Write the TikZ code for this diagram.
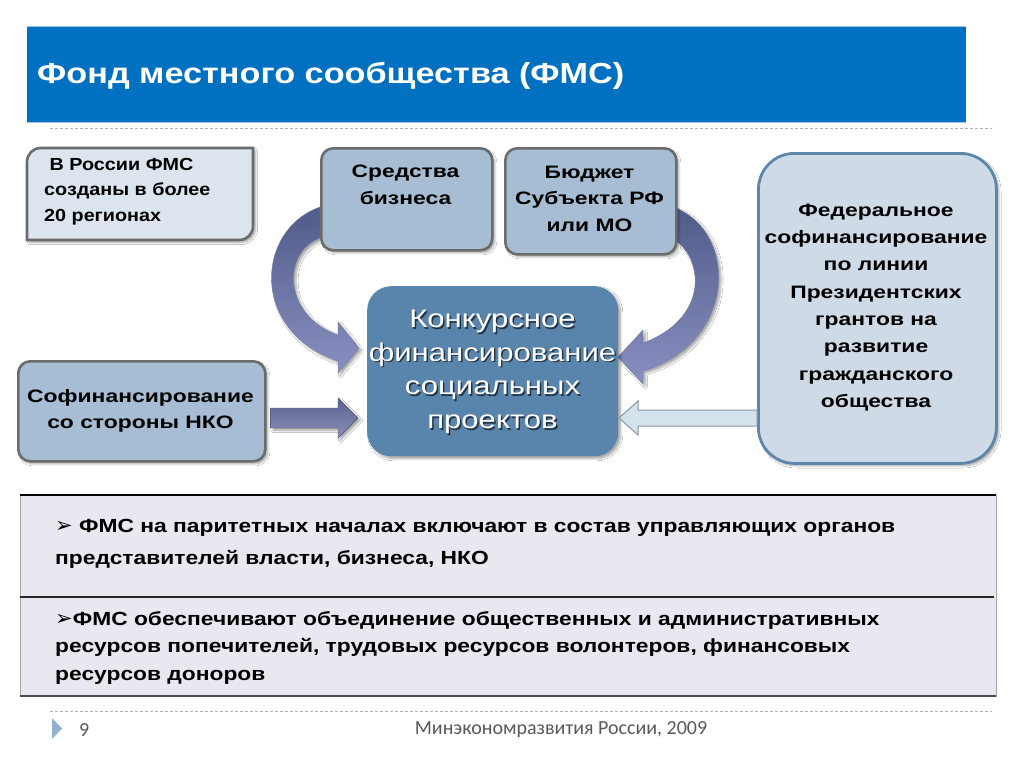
\documentclass[tikz,border=0pt]{standalone}
\usepackage{fontspec}
\setmainfont{Liberation Sans}
\newfontfamily\ttlfont[FakeStretch=1.18]{Liberation Sans}
\newfontfamily\boxfont[FakeStretch=1.27]{Liberation Sans}
\newfontfamily\rusfont[FakeStretch=1.13]{Liberation Sans}
\newfontfamily\ctrfont[FakeStretch=1.22]{Liberation Sans}
\newfontfamily\tabfont[FakeStretch=1.2]{Liberation Sans}
\newfontfamily\symfont{DejaVu Sans}
\newfontfamily\footfont{Carlito}
\usetikzlibrary{shadows.blur}
\definecolor{titleblue}{HTML}{0070C0}
\definecolor{titleline}{HTML}{9DC3E6}
\definecolor{grayborder}{HTML}{6B6B6B}
\definecolor{boxA}{HTML}{A7BDD3}
\definecolor{boxL}{HTML}{DCE5EE}
\definecolor{ctrfill}{HTML}{5985AD}
\definecolor{rfill}{HTML}{CEDAE6}
\definecolor{rborder}{HTML}{5E86AA}
\definecolor{arrdark}{HTML}{505B88}
\definecolor{arrlight}{HTML}{8A90C2}
\definecolor{arrmid}{HTML}{6C73A6}
\definecolor{arrpale}{HTML}{D4E2EB}
\definecolor{arrpaleb}{HTML}{8597A8}
\definecolor{tabfill}{HTML}{E8E8F0}
\definecolor{dashgray}{HTML}{A9B0B8}
\definecolor{foottext}{HTML}{595959}
\definecolor{marker}{HTML}{8FB1D2}
\tikzset{
  shad/.style={blur shadow={shadow xshift=2.5pt, shadow yshift=-2.5pt, shadow blur steps=6, shadow opacity=35}},
  boxa/.style={draw=grayborder, line width=2.6pt, fill=boxA, rounded corners=12pt, inner sep=0pt, anchor=north west, shad},
  boxtxt/.style={font=\boxfont\bfseries\fontsize{18}{26.5}\selectfont, align=center, text=black, inner sep=0pt},
  ctrtxt/.style={font=\ctrfont\fontsize{25.5}{33.7}\selectfont, align=center, inner sep=0pt},
  tabtxt/.style={font=\tabfont\bfseries\fontsize{19}{27.5}\selectfont, align=left, anchor=north west, inner sep=0pt, text=black},
  dashln/.style={draw=dashgray, line width=0.8pt, dash pattern=on 3pt off 2pt},
  curvarr/.style={top color=arrdark, bottom color=arrlight, draw=arrdark!80, line width=0.4pt, shad},
}
\begin{document}
\begin{tikzpicture}[x=1pt,y=-1pt]
\useasboundingbox (0,0) rectangle (1024,768);
\fill[white] (0,0) rectangle (1024,768);

% title bar
\node (bar) [fill=titleblue, minimum width=939pt, minimum height=95pt, anchor=north west, inner sep=0pt] at (27,27) {};
\draw[titleline, line width=1pt] (bar.north west) -- (bar.north east);
\draw[titleline, line width=1pt] (bar.south west) -- (bar.south east);
\node (title) [anchor=west, text=white, inner sep=0pt, font=\ttlfont\bfseries\fontsize{29}{32}\selectfont] at (37,76) {Фонд местного сообщества (ФМС)};
\coordinate (d1a) at (50,128); \coordinate (d1b) at (992,128);
\draw[dashln] (d1a) -- (d1b);

% top-left box
\path[draw=grayborder, line width=2.6pt, fill=boxL, shad]
  (27,240) -- (27,162) .. controls (27,154) and (33,148) .. (41,148) -- (253,148)
  -- (253,226) .. controls (253,234) and (247,240) .. (239,240) -- cycle;
\node (rus) [anchor=north west, align=left, inner sep=0pt, font=\rusfont\bfseries\fontsize{17.5}{25.5}\selectfont] at (44,158) {\ В России ФМС\\созданы в более\\20 регионах};

% curved arrows
\path[curvarr] (320,207) .. controls (255,230) and (250,332) .. (338,361) -- (338,373) -- (359,348) -- (338,322) -- (338,335) .. controls (282,315) and (282,252) .. (320,238) -- cycle;
\path[curvarr] (673,207) .. controls (738,230) and (738,342) .. (643,371) -- (643,384) -- (618,357) -- (643,330) -- (643,343) .. controls (706,320) and (706,262) .. (675,240) -- cycle;

% top boxes
\node (biz) [boxa, minimum width=171pt, minimum height=102pt] at (320,147) {};
\node (bizt) [boxtxt] at (405.5,185) {Средства\\бизнеса};
\node (bud) [boxa, minimum width=171pt, minimum height=106pt] at (504,147) {};
\node (budt) [boxtxt] at (589.5,198.5) {Бюджет\\Субъекта РФ\\или МО};

% NKO box
\node (nko) [boxa, minimum width=247pt, minimum height=100pt] at (17,360) {};
\node (nkot) [boxtxt] at (140.5,411) {Софинансирование\\со стороны НКО};

% right box
\node (fed) [draw=rborder, line width=2.8pt, fill=rfill, rounded corners=36pt, inner sep=0pt, anchor=north west, minimum width=238pt, minimum height=310pt, shad] at (757,152) {};
\node (fedt) [boxtxt, font=\boxfont\bfseries\fontsize{18}{27.3}\selectfont] at (876,307.5) {Федеральное\\софинансирование\\по линии\\Президентских\\грантов на\\развитие\\гражданского\\общества};

% center box
\node (ctr) [fill=ctrfill, rounded corners=24pt, inner sep=0pt, anchor=north west, minimum width=251pt, minimum height=170pt, shad] at (367,286) {};
\node (ctrs) [ctrtxt, text=black!75!ctrfill, opacity=0.8] at (494,373.5) {Конкурсное\\финансирование\\социальных\\проектов};
\node (ctrt) [ctrtxt, text=white] at (492.5,372) {Конкурсное\\финансирование\\социальных\\проектов};

% straight arrows
\path[top color=arrmid!85!black, bottom color=arrmid!80!white, draw=arrmid!70!black, line width=0.4pt, shad]
  ([xshift=4pt]nko.east |- 0,408) -- (338,408) -- (338,398) -- (358,418) -- (338,438) -- (338,428) -- ([xshift=4pt]nko.east |- 0,428) -- cycle;
\path[fill=arrpale, draw=arrpaleb, line width=1pt]
  (fed.west |- 0,410) -- (638,410) -- (638,401) -- (619,418) -- (638,435) -- (638,426) -- (fed.west |- 0,426) -- cycle;

% table
\fill[tabfill] (20,495) rectangle (996,696);
\draw[gray!70, line width=0.8pt] (20,495) -- (20,697);
\draw[gray!70, line width=0.8pt] (996,495) -- (996,697);
\draw[black, line width=1.6pt] (20,495) -- (996,495);
\draw[black!85, line width=1.2pt] (20,597) -- (994,597);
\draw[black!70, line width=1.8pt] (20,696) -- (996,696);
\node (r1) [tabtxt, text depth=0pt] at (55,519) {{\symfont\mdseries\fontsize{21}{27}\selectfont ➢} ФМС на паритетных началах включают в состав управляющих органов\\[5pt]представителей власти, бизнеса, НКО};
\node (r2) [tabtxt] at (55,611) {{\symfont\mdseries\fontsize{21}{27}\selectfont ➢}ФМС обеспечивают объединение общественных и административных\\ресурсов попечителей, трудовых ресурсов волонтеров, финансовых\\ресурсов доноров};

% footer
\coordinate (d2a) at (50,711); \coordinate (d2b) at (992,711);
\draw[dashln] (d2a) -- (d2b);
\fill[marker] (52,718) -- (62,728.5) -- (52,739) -- cycle;
\node (pg) [anchor=west, inner sep=0pt, text=foottext, font=\footfont\fontsize{20}{22}\selectfont] at (79,730) {9};
\node (ft) [inner sep=0pt, text=foottext, font=\footfont\fontsize{20}{22}\selectfont] at (561,730) {Минэкономразвития России, 2009};
\end{tikzpicture}
\end{document}
